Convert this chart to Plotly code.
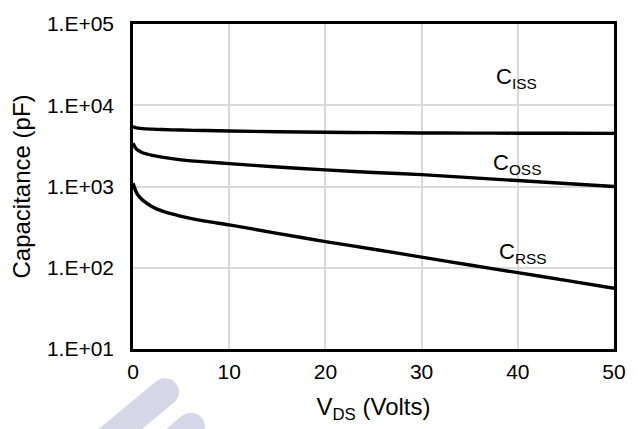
import plotly.graph_objects as go

vds = [0, 0.25, 0.5, 1, 2, 3, 5, 7.5, 10, 15, 20, 25, 30, 35, 40, 45, 50]
ciss = [5450, 5300, 5220, 5150, 5080, 5020, 4950, 4880, 4820, 4720, 4650, 4600, 4560, 4540, 4530, 4520, 4510]
coss = [3400, 3000, 2800, 2600, 2420, 2300, 2130, 2010, 1910, 1740, 1600, 1490, 1400, 1285, 1183, 1087, 1000]
crss = [1100, 900, 790, 680, 565, 500, 430, 375, 337, 265, 210, 169, 135, 108, 87, 70, 56]

labels = ["C<sub>ISS</sub>", "C<sub>OSS</sub>", "C<sub>RSS</sub>"]
label_x = [39.9, 39.9, 40.5]
label_y = [4.33, 3.28, 2.18]

ytickvals = [10, 100, 1000, 10000, 100000]
yticktext = ["1.E+01", "1.E+02", "1.E+03", "1.E+04", "1.E+05"]
xtickvals = [0, 10, 20, 30, 40, 50]

W, H = 643, 429
L, R, T, B = 133, 29, 17, 80
pw, ph = W - L - R, H - T - B

def px(x):
    return (x - L) / pw

def py(y):
    return (H - B - y) / ph

fig = go.Figure()
for ys in (ciss, coss, crss):
    fig.add_trace(go.Scatter(x=vds, y=ys, mode="lines", line=dict(color="black", width=3.4, shape="spline", smoothing=0.6), showlegend=False))

font = "Liberation Sans, Arial, sans-serif"
for t, xx, yy in zip(labels, label_x, label_y):
    fig.add_annotation(x=xx, y=yy, text=t, showarrow=False, font=dict(family=font, size=22, color="black"))

# watermark strokes
wm = "#d6d8e7"
def stroke(cx, cy, length=110, r=14):
    dx, dy = -0.764, 0.645
    nx, ny = 0.645, 0.764
    pts = [(cx + nx * r, cy + ny * r), (cx - nx * r, cy - ny * r),
           (cx - nx * r + dx * length, cy - ny * r + dy * length),
           (cx + nx * r + dx * length, cy + ny * r + dy * length)]
    path = "M " + " L ".join(f"{px(a):.4f},{py(b):.4f}" for a, b in pts) + " Z"
    fig.add_shape(type="path", path=path, xref="paper", yref="paper", fillcolor=wm, line=dict(width=0), layer="below")
    fig.add_shape(type="circle", xref="paper", yref="paper", x0=px(cx - r), x1=px(cx + r), y0=py(cy + r), y1=py(cy - r), fillcolor=wm, line=dict(width=0), layer="below")

stroke(165, 393)
stroke(191, 428)

fig.update_layout(
    width=W, height=H,
    margin=dict(l=L, r=R, t=T, b=B),
    paper_bgcolor="white", plot_bgcolor="rgba(0,0,0,0)",
    font=dict(family=font, size=21, color="black"),
    xaxis=dict(range=[0, 50], tickvals=xtickvals, showgrid=True, gridcolor="#d9d9d9", gridwidth=1.5,
               showline=True, linecolor="black", linewidth=2.5, mirror=True, zeroline=False, ticks="",
               ticklabelstandoff=2,
               title=dict(text="V<sub>DS</sub> (Volts)", font=dict(size=24), standoff=17)),
    yaxis=dict(type="log", range=[1, 5], tickvals=ytickvals, ticktext=yticktext, showgrid=True, gridcolor="#d9d9d9", gridwidth=1.5,
               showline=True, linecolor="black", linewidth=2.5, mirror=True, zeroline=False, ticks="",
               ticklabelstandoff=12,
               title=dict(text="Capacitance (pF)", font=dict(size=24), standoff=10)),
)
fig.write_html("out.html")
